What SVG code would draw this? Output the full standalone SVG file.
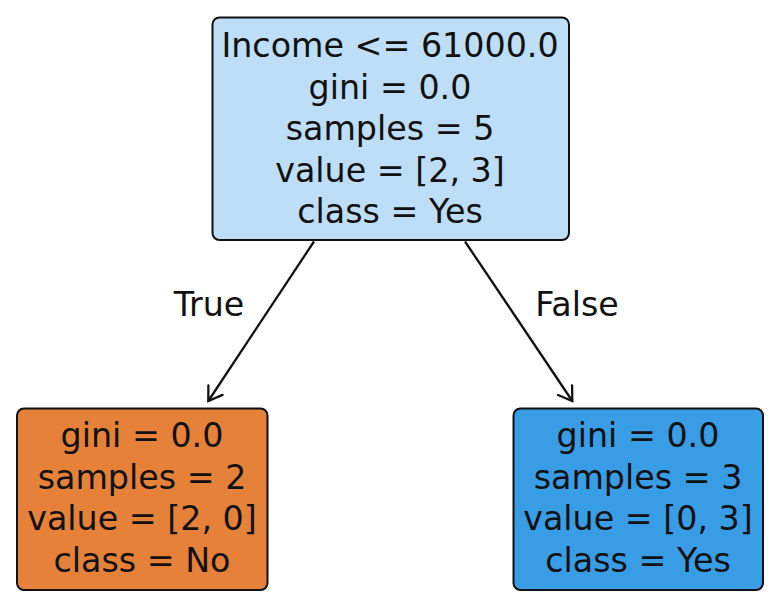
<svg xmlns="http://www.w3.org/2000/svg" width="778" height="605" viewBox="0 0 778 605">
<style>
  .box { stroke: #111; stroke-width: 2; }
  .t { font-family: "DejaVu Sans", "Liberation Sans", sans-serif; font-size: 33.3px; fill: #111; text-anchor: middle; }
  .edge { stroke: #111; stroke-width: 2.3; fill: none; }
</style>
<defs>
  <marker id="arrow" markerUnits="userSpaceOnUse" markerWidth="30" markerHeight="30" refX="0" refY="0" viewBox="-20 -15 30 30" orient="auto" overflow="visible">
    <path d="M -13,-8.5 L 0,0 L -13,8.5" fill="none" stroke="#111" stroke-width="2.3" stroke-linecap="round" stroke-linejoin="miter"/>
  </marker>
</defs>
<rect width="778" height="605" fill="#fff"/>
<g id="connectors">
  <line class="edge" x1="314" y1="241.5" x2="208.3" y2="401" marker-end="url(#arrow)"/>
  <line class="edge" x1="465" y1="241.5" x2="572.3" y2="401" marker-end="url(#arrow)"/>
  <text class="t" x="209" y="316">True</text>
  <text class="t" x="577" y="316">False</text>
</g>
<g id="node-root">
  <rect class="box" x="212.5" y="17.5" width="356.5" height="222.5" rx="7" fill="#bddef6"/>
  <text class="t" x="390" y="57">Income &lt;= 61000.0</text>
  <text class="t" x="390" y="98.5">gini = 0.0</text>
  <text class="t" x="390" y="140">samples = 5</text>
  <text class="t" x="390" y="181.5">value = [2, 3]</text>
  <text class="t" x="390" y="223">class = Yes</text>
</g>
<g id="node-left">
  <rect class="box" x="17" y="408.5" width="250.5" height="181.5" rx="7" fill="#e58139"/>
  <text class="t" x="142" y="447">gini = 0.0</text>
  <text class="t" x="142" y="488.5">samples = 2</text>
  <text class="t" x="142" y="530">value = [2, 0]</text>
  <text class="t" x="142" y="571.5">class = No</text>
</g>
<g id="node-right">
  <rect class="box" x="513.5" y="408.5" width="249.5" height="181.5" rx="7" fill="#399de5"/>
  <text class="t" x="638" y="447">gini = 0.0</text>
  <text class="t" x="638" y="488.5">samples = 3</text>
  <text class="t" x="638" y="530">value = [0, 3]</text>
  <text class="t" x="638" y="571.5">class = Yes</text>
</g>
</svg>
